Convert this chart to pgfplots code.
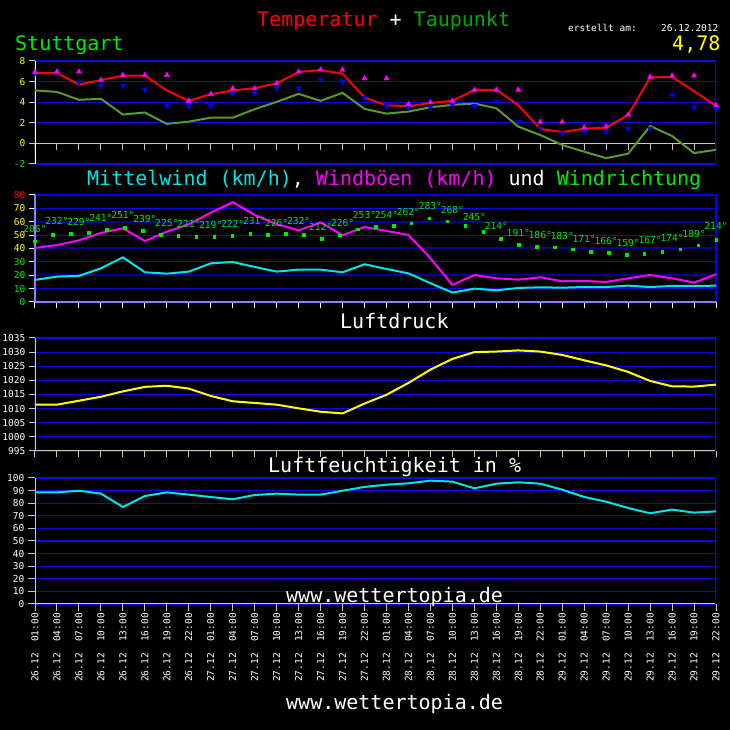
\documentclass[border=0pt]{standalone}
\usepackage{fontspec}
\setmainfont{DejaVu Sans Mono}
\usepackage{pgfplots}
\usepackage{pgfplotstable}
\pgfplotsset{compat=1.18}

\definecolor{tred}{RGB}{255,0,0}
\definecolor{dewg}{RGB}{90,155,35}
\definecolor{mag}{RGB}{255,0,255}
\definecolor{bblue}{RGB}{0,0,255}
\definecolor{gridb}{RGB}{10,10,230}
\definecolor{navyb}{RGB}{0,0,150}
\definecolor{cyn}{RGB}{0,230,230}
\definecolor{ylw}{RGB}{255,255,0}
\definecolor{sgrn}{RGB}{0,235,0}
\definecolor{dgrn}{RGB}{0,170,0}
\definecolor{lav}{RGB}{130,130,255}
\definecolor{axg}{RGB}{200,200,200}

\newcommand{\bigf}{\fontsize{20}{20}\selectfont}
\newcommand{\smallf}{\fontsize{9.5}{10}\selectfont}
\newcommand{\tinyf}{\fontsize{9.6}{10}\selectfont}

\pgfplotstableread{
i temp dew tmax tmin
0 6.83 5.14 6.90 6.83
1 6.83 5.00 6.96 6.83
2 5.70 4.23 6.96 5.92
3 6.15 4.33 6.15 5.60
4 6.57 2.80 6.63 5.60
5 6.57 3.00 6.63 5.20
6 5.14 1.89 6.63 3.64
7 4.13 2.11 4.13 3.64
8 4.78 2.50 4.78 3.64
9 5.14 2.50 5.33 4.85
10 5.37 3.32 5.33 4.85
11 5.82 4.03 5.82 5.33
12 6.93 4.81 6.96 5.33
13 7.12 4.13 7.15 6.18
14 6.76 4.91 7.15 5.98
15 4.45 3.35 6.30 4.45
16 3.70 2.89 6.30 3.64
17 3.60 3.09 3.80 3.51
18 3.93 3.51 3.97 3.51
19 4.13 3.74 4.13 3.74
20 5.20 3.87 5.20 3.64
21 5.20 3.41 5.20 4.06
22 3.70 1.63 5.20 2.10
23 1.40 0.81 2.08 1.46
24 1.10 -0.16 2.08 0.98
25 1.43 -0.81 1.56 1.10
26 1.53 -1.43 1.63 1.10
27 2.76 -1.00 2.80 1.43
28 6.40 1.69 6.44 1.43
29 6.47 0.72 6.57 4.72
30 5.07 -0.94 6.57 3.48
31 3.64 -0.62 3.70 3.32
}\temptab

\pgfplotstableread{
i wind gust
0 16.5 40.4
1 19.0 42.6
2 19.5 46.1
3 25.2 51.6
4 33.4 55.1
5 22.2 45.6
6 21.2 52.6
7 22.7 58.1
8 28.9 66.8
9 29.9 74.6
10 26.2 65.1
11 22.7 58.1
12 24.2 53.6
13 24.2 59.4
14 22.2 49.9
15 28.2 56.1
16 24.7 53.1
17 21.4 50.1
18 14.0 32.7
19 7.0 12.7
20 10.0 20.2
21 8.7 17.7
22 10.5 16.7
23 11.0 18.5
24 10.7 15.5
25 11.2 15.7
26 11.2 15.0
27 12.2 17.7
28 11.2 20.2
29 12.0 17.7
30 12.0 14.5
31 12.2 20.7
}\windtab

\pgfplotstableread{
x y
0 45.6
0.816 50.4
1.632 51.1
2.447 51.9
3.263 54.1
4.079 55.6
4.895 53.4
5.711 50.1
6.526 49.4
7.342 48.9
8.158 48.9
8.974 49.4
9.789 50.9
10.605 50.4
11.421 50.9
12.237 50.1
13.053 47.4
13.868 49.9
14.684 54.4
15.500 56.4
16.316 57.1
17.132 58.9
17.947 62.6
18.763 60.3
19.579 56.9
20.395 52.4
21.211 47.1
22.026 42.9
22.842 41.4
23.658 40.9
24.474 39.4
25.289 37.7
26.105 36.7
26.921 35.2
27.737 36.2
28.553 37.7
29.368 39.4
30.184 42.4
31.000 46.6
}\dottab

\pgfplotstableread{
i y lab
0 45.8 206°
1 51.6 232°
2 50.9 229°
3 53.6 241°
4 55.8 251°
5 53.1 239°
6 50.0 225°
7 49.1 221°
8 48.7 219°
9 49.3 222°
10 51.3 231°
11 50.2 226°
12 51.6 232°
13 47.1 212°
14 50.2 226°
15 56.2 253°
16 56.4 254°
17 58.2 262°
18 62.9 283°
19 59.6 268°
20 54.4 245°
21 47.6 214°
22 42.4 191°
23 41.3 186°
24 40.7 183°
25 38.0 171°
26 36.9 166°
27 35.3 159°
28 37.1 167°
29 38.7 174°
30 42.0 189°
31 47.6 214°
}\dirtab

\pgfplotstableread{
i p
0 1011.4
1 1011.4
2 1012.8
3 1014.2
4 1016.1
5 1017.7
6 1018.1
7 1017.1
8 1014.5
9 1012.6
10 1012.0
11 1011.4
12 1010.1
13 1008.9
14 1008.3
15 1011.8
16 1014.9
17 1019.1
18 1023.8
19 1027.6
20 1030.0
21 1030.2
22 1030.6
23 1030.2
24 1029.0
25 1027.1
26 1025.3
27 1023.0
28 1019.8
29 1017.9
30 1017.8
31 1018.5
}\presstab

\pgfplotstableread{
i h
0 88.6
1 88.6
2 89.9
3 87.6
4 77.0
5 85.7
6 88.6
7 86.8
8 84.9
9 83.1
10 86.5
11 87.6
12 86.8
13 86.8
14 89.9
15 92.9
16 94.7
17 95.8
18 97.9
19 97.1
20 91.8
21 95.5
22 96.6
23 95.5
24 90.7
25 84.9
26 81.2
27 76.2
28 72.0
29 74.9
30 72.5
31 73.5
}\humtab

\pgfplotsset{
  panel/.style={
    scale only axis, width=681pt, anchor=south west,
    xmin=0, xmax=31,
    axis line style={draw=none},
    tick pos=left, tick align=outside,
    major tick length=6pt,
    tick style={axg, line width=1pt},
    xtick={0,...,31}, xticklabels={},
    ymajorgrids,
    major grid style={gridb, line width=1.2pt},
    yticklabel style={font=\smallf, inner sep=3.5pt},
  },
}

\begin{document}
\begin{tikzpicture}[x=1pt,y=1pt]
\fill[black] (0,0) rectangle (730,730);

% titles
\node[anchor=base west, inner sep=0, font=\bigf] at (257,703) {\textcolor{tred}{Temperatur} \textcolor{white}{+} \textcolor{dgrn}{Taupunkt}};
\node[anchor=base west, inner sep=0, font=\bigf, text=sgrn] at (15,679) {Stuttgart};
\node[anchor=base west, inner sep=0, font=\smallf, text=white] at (568,698) {erstellt am:};
\node[anchor=base west, inner sep=0, font=\smallf, text=white] at (661,698) {26.12.2012};
\node[anchor=base west, inner sep=0, font=\bigf, text=ylw] at (672,679) {4,78};
\node[anchor=base west, inner sep=0, font=\bigf] at (87,544) {\textcolor{cyn}{Mittelwind (km/h)}\textcolor{white}{,} \textcolor{mag}{Windböen (km/h)} \textcolor{white}{und} \textcolor{sgrn}{Windrichtung}};
\node[anchor=base west, inner sep=0, font=\bigf, text=white] at (340,401) {Luftdruck};
\node[anchor=base west, inner sep=0, font=\bigf, text=white] at (268,257) {Luftfeuchtigkeit in \%};

% Panel 1: temperature
\begin{axis}[panel, at={(35pt,566pt)}, height=103pt,
  ymin=-2, ymax=8, ytick={-2,0,2,4,6,8},
  yticklabels={\textcolor{sgrn}{-2},\textcolor{ylw}{0},\textcolor{ylw}{2},\textcolor{ylw}{4},\textcolor{ylw}{6},\textcolor{ylw}{8}},
  xtick=\empty]
  \draw[axg, line width=1.3pt] (axis cs:0,0) -- (axis cs:31,0);
  \pgfplotsinvokeforeach{0,...,31}{\draw[axg, line width=1pt] (axis cs:#1,0) -- ++(0pt,-7pt);}
  \draw[white, line width=1.3pt] (rel axis cs:0,0) -- (rel axis cs:0,1);
  \draw[bblue, line width=1.3pt] (rel axis cs:1,0) -- (rel axis cs:1,1);
  \addplot[dewg, line width=2pt] table[x=i,y=dew] {\temptab};
  \addplot[tred, line width=2pt] table[x=i,y=temp] {\temptab};
  \addplot[only marks, mark=triangle*, mark size=3pt, color=bblue, mark options={rotate=180}] table[x=i,y=tmin] {\temptab};
  \addplot[only marks, mark=triangle*, mark size=3pt, color=mag] table[x=i,y=tmax] {\temptab};
\end{axis}

% Panel 2: wind
\begin{axis}[panel, at={(35pt,428pt)}, height=107pt, clip=false,
  ymin=0, ymax=80, ytick={0,10,...,80}, ymajorgrids=false,
  yticklabels={\textcolor{sgrn}{0},\textcolor{sgrn}{10},\textcolor{sgrn}{20},\textcolor{sgrn}{30},\textcolor{ylw}{40},\textcolor{ylw}{50},\textcolor{ylw}{60},\textcolor{ylw}{70},\textcolor{tred}{80}},
  tick style={white, line width=1pt}]
  \pgfplotsinvokeforeach{10,30,50,70}{\draw[gridb, line width=1.2pt] (axis cs:0,#1) -- (axis cs:31,#1);}
  \pgfplotsinvokeforeach{20,40,60}{\draw[navyb, line width=2pt] (axis cs:0,#1) -- (axis cs:31,#1);}
  \draw[bblue, line width=2pt] (axis cs:0,80) -- (axis cs:31,80);
  \draw[bblue, line width=1.5pt] (rel axis cs:1,0) -- (rel axis cs:1,1);
  \draw[lav, line width=2pt] (rel axis cs:0,0) -- (rel axis cs:0,1);
  \draw[lav, line width=2pt] (rel axis cs:0,0) -- (rel axis cs:1,0);
  \addplot[cyn, line width=2pt] table[x=i,y=wind] {\windtab};
  \addplot[mag, line width=2pt] table[x=i,y=gust] {\windtab};
  \addplot[only marks, mark=square*, mark size=1.3pt, color=sgrn] table[x=x,y=y] {\dottab};
  \addplot[draw=none, nodes near coords, point meta=explicit symbolic,
    nodes near coords style={font=\tinyf, text=sgrn, anchor=center, yshift=12pt, inner sep=0pt}]
    table[x=i,y=y,meta=lab] {\dirtab};
\end{axis}

% Panel 3: pressure
\begin{axis}[panel, at={(35pt,279pt)}, height=113pt,
  ymin=995, ymax=1035, ytick={995,1000,...,1035},
  yticklabels={995,1000,1005,1010,1015,1020,1025,1030,1035},
  yticklabel style={text=white}]
  \draw[axg, line width=1.3pt] (rel axis cs:0,0) -- (rel axis cs:1,0);
  \draw[axg, line width=1.3pt] (rel axis cs:0,0) -- (rel axis cs:0,1);
  \draw[bblue, line width=1.3pt] (rel axis cs:1,0) -- (rel axis cs:1,1);
  \addplot[ylw, line width=2pt] table[x=i,y=p] {\presstab};
\end{axis}

% Panel 4: humidity
\begin{axis}[panel, at={(35pt,126pt)}, height=126pt,
  ymin=0, ymax=100, ytick={0,10,...,100},
  yticklabels={0,10,20,30,40,50,60,70,80,90,100},
  yticklabel style={text=white},
  major tick length=7pt,
  xticklabels={26.12~~01:00,26.12~~04:00,26.12~~07:00,26.12~~10:00,26.12~~13:00,26.12~~16:00,26.12~~19:00,26.12~~22:00,
    27.12~~01:00,27.12~~04:00,27.12~~07:00,27.12~~10:00,27.12~~13:00,27.12~~16:00,27.12~~19:00,27.12~~22:00,
    28.12~~01:00,28.12~~04:00,28.12~~07:00,28.12~~10:00,28.12~~13:00,28.12~~16:00,28.12~~19:00,28.12~~22:00,
    29.12~~01:00,29.12~~04:00,29.12~~07:00,29.12~~10:00,29.12~~13:00,29.12~~16:00,29.12~~19:00,29.12~~22:00},
  xticklabel style={font=\smallf, text=white, rotate=90, anchor=east, inner sep=2pt}]
  \draw[axg, line width=1.3pt] (rel axis cs:0,0) -- (rel axis cs:1,0);
  \draw[axg, line width=1.3pt] (rel axis cs:0,0) -- (rel axis cs:0,1);
  \draw[bblue, line width=1.3pt] (rel axis cs:1,0) -- (rel axis cs:1,1);
  \addplot[cyn, line width=2pt] table[x=i,y=h] {\humtab};
\end{axis}

\node[anchor=base west, inner sep=0, font=\bigf, text=white] at (286,127.3) {www.wettertopia.de};
\node[anchor=base west, inner sep=0, font=\bigf, text=white] at (286,20.7) {www.wettertopia.de};

\pgfresetboundingbox
\path[use as bounding box] (0,0) rectangle (730,730);
\end{tikzpicture}
\end{document}
